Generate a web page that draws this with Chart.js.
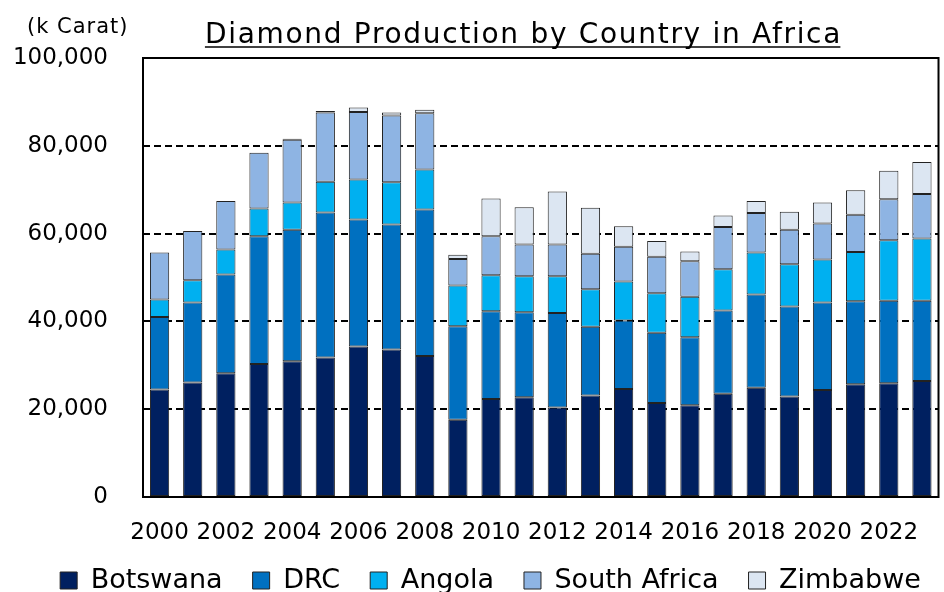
<!DOCTYPE html>
<html>
<head>
    <title>Diamond Production by Country in Africa</title>
    <script src="https://cdn.jsdelivr.net/npm/chart.js"></script>
    <style>
        body { margin: 0; background: #fff; }
        #wrap { width: 944px; height: 592px; }
    </style>
</head>
<body>
    <div id="wrap"><canvas id="grafik"></canvas></div>
</body>
<script>
    // data (k carat)
    const years = ['2000','2001','2002','2003','2004','2005','2006','2007','2008','2009','2010','2011',
                   '2012','2013','2014','2015','2016','2017','2018','2019','2020','2021','2022','2023'];
    const botswana    = [24.5, 26.1, 28.2, 30.3, 30.9, 31.8, 34.3, 33.6, 32.1, 17.6, 22.3, 22.7,
                         20.4, 23.1, 24.6, 21.4, 20.9, 23.5, 24.9, 22.9, 24.4, 25.7, 25.9, 26.4];
    const drc         = [16.5, 18.2, 22.5, 29.1, 30.0, 33.0, 28.9, 28.5, 33.4, 21.3, 20.0, 19.4,
                         21.5, 15.7, 15.6, 16.0, 15.5, 19.0, 21.2, 20.5, 19.9, 18.9, 18.8, 18.3];
    const angola      = [4.0, 5.1, 5.7, 6.3, 6.2, 7.0, 9.1, 9.6, 9.1, 9.3, 8.2, 8.2,
                         8.4, 8.5, 8.9, 9.0, 9.2, 9.4, 9.6, 9.6, 9.8, 11.2, 13.8, 14.2];
    const southAfrica = [10.7, 11.2, 11.0, 12.7, 14.3, 15.8, 15.4, 15.2, 12.8, 6.0, 8.9, 7.2,
                         7.2, 8.1, 7.9, 8.3, 8.1, 9.6, 9.0, 7.9, 8.2, 8.5, 9.3, 10.1];
    const zimbabwe    = [0, 0, 0, 0, 0.2, 0.3, 1.0, 0.7, 0.8, 1.0, 8.6, 8.5,
                         12.1, 10.5, 4.7, 3.6, 2.2, 2.6, 2.7, 4.1, 4.8, 5.6, 6.5, 7.3];
    const yTicks = [0, 20000, 40000, 60000, 80000, 100000];
    const titleText = 'Diamond Production by Country in Africa';
    const unitText = '(k Carat)';

    const FONT = "'DejaVu Sans', Verdana, sans-serif";
    const toK = arr => arr.map(v => v * 1000);

    function mkSet(label, data, color) {
        return {
            label: label,
            data: toK(data),
            backgroundColor: color,
            borderColor: '#222',
            borderWidth: 1,
            borderSkipped: false,
            barPercentage: 0.58,
            categoryPercentage: 1.0
        };
    }

    // nudge the legend: a bit to the right and up against the axis labels
    const legendNudge = {
        id: 'legendNudge',
        afterLayout(chart) {
            const lg = chart.legend;
            const h = lg.bottom - lg.top;
            lg.top = 537;
            lg.bottom = 537 + h;
            lg.left += 20;
            lg.right += 20;
        }
    };

    // title (underlined), unit label, frame round the plot
    const extras = {
        id: 'extras',
        afterDraw(chart) {
            const c = chart.ctx;
            const a = chart.chartArea;
            c.save();
            c.strokeStyle = '#000';
            c.lineWidth = 2;
            c.strokeRect(a.left, a.top, a.right - a.left, a.bottom - a.top);

            c.fillStyle = '#000';
            c.textBaseline = 'alphabetic';
            c.font = "28px " + FONT;
            c.letterSpacing = '1.7px';
            const w = c.measureText(titleText).width;
            const x0 = 523.5 - w / 2;
            c.textAlign = 'left';
            c.fillText(titleText, x0, 43);
            c.lineWidth = 1.6;
            c.beginPath();
            c.moveTo(x0, 47);
            c.lineTo(x0 + w - 1.7, 47);
            c.stroke();

            c.font = "21px " + FONT;
            c.letterSpacing = '1px';
            c.fillText(unitText, 27, 33);
            c.restore();
        }
    };

    const ctx = document.getElementById('grafik').getContext('2d');
    const grafik = new Chart(ctx, {
        type: 'bar',
        data: {
            labels: years,
            datasets: [
                mkSet('Botswana', botswana, '#002060'),
                mkSet('DRC', drc, '#0070C0'),
                mkSet('Angola', angola, '#00B0F0'),
                mkSet('South Africa', southAfrica, '#8EB4E3'),
                mkSet('Zimbabwe', zimbabwe, '#DCE6F2')
            ]
        },
        options: {
            responsive: true,
            maintainAspectRatio: false,
            animation: false,
            layout: { padding: { left: 0, right: 3, top: 58, bottom: -22 } },
            scales: {
                x: {
                    stacked: true,
                    afterFit: s => { s.height = 50; },
                    grid: { display: false, drawTicks: false },
                    border: { display: false },
                    ticks: {
                        autoSkip: false,
                        maxRotation: 0,
                        padding: 22,
                        color: '#000',
                        font: { family: FONT, size: 23 },
                        callback: (v, i) => (i % 2 === 0 ? years[i] : '')
                    }
                },
                y: {
                    stacked: true,
                    min: 0,
                    max: 100000,
                    afterFit: s => { s.width = 143; },
                    afterBuildTicks: s => { s.ticks = yTicks.map(v => ({ value: v })); },
                    grid: {
                        color: '#000',
                        lineWidth: 2,
                        drawTicks: false
                    },
                    border: { display: false, dash: [7, 4] },
                    ticks: {
                        padding: 35,
                        color: '#000',
                        font: { family: FONT, size: 23 },
                        callback: v => v.toLocaleString('en-US')
                    }
                }
            },
            plugins: {
                title: { display: false },
                legend: {
                    position: 'bottom',
                    labels: {
                        color: '#000',
                        boxWidth: 17,
                        boxHeight: 17,
                        padding: 30,
                        font: { family: FONT, size: 27 }
                    }
                },
                tooltip: { enabled: false }
            }
        },
        plugins: [legendNudge, extras]
    });
</script>
</html>
